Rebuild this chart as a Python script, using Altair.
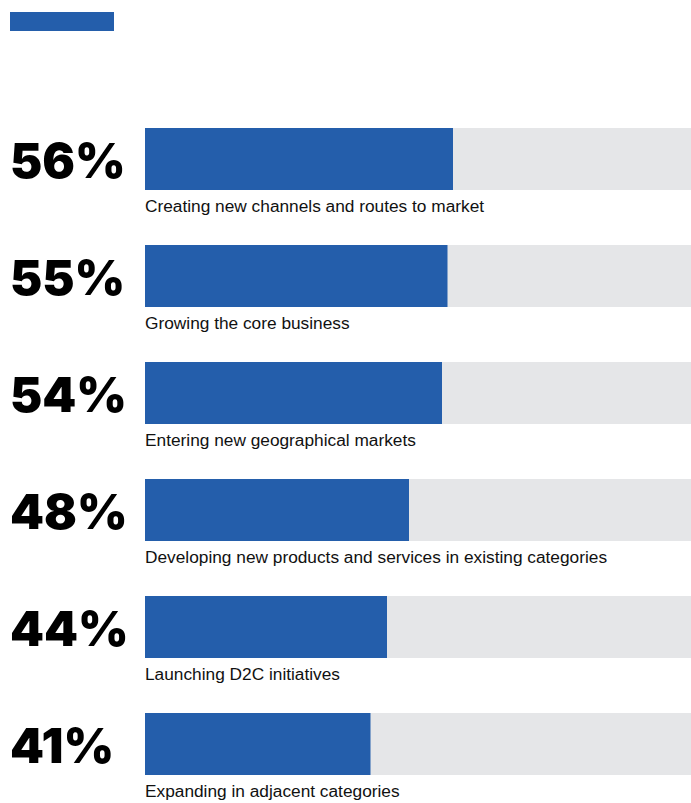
import altair as alt
import pandas as pd

categories = [
    "Creating new channels and routes to market",
    "Growing the core business",
    "Entering new geographical markets",
    "Developing new products and services in existing categories",
    "Launching D2C initiatives",
    "Expanding in adjacent categories",
]
values = [56, 55, 54, 48, 44, 41]
track = [100] * len(values)

df = pd.DataFrame({
    "category": categories,
    "value": values,
    "track": track,
    "label": [f"{v}%" for v in values],
})

BLUE = "#245EAB"
GREY = "#E5E6E8"

y_scale = alt.Scale(domain=categories, range=[128, 775], paddingInner=55 / 117, paddingOuter=0)
x_scale = alt.Scale(domain=[0, 100], range=[145, 695], nice=False, zero=True)

base = alt.Chart(df)
y_enc = alt.Y("category:N", scale=y_scale, axis=None, sort=categories)

track_bars = base.mark_bar(color=GREY, cornerRadius=0).encode(
    x=alt.X("track:Q", scale=x_scale, axis=None),
    x2=alt.value(145),
    y=y_enc,
)

value_bars = base.mark_bar(color=BLUE, cornerRadius=0).encode(
    x=alt.X("value:Q", scale=x_scale, axis=None),
    x2=alt.value(145),
    y=y_enc,
)

pct_text = base.mark_text(
    align="left", baseline="alphabetic", dy=19,
    font="Inter", fontWeight=900, fontSize=48.5, color="#000000",
).encode(
    x=alt.value(10),
    y=y_enc,
    text="label:N",
)

cat_text = base.mark_text(
    align="left", baseline="alphabetic", dy=53,
    font="Liberation Sans", fontSize=17.3, color="#111111",
).encode(
    x=alt.value(145),
    y=y_enc,
    text="category:N",
)

swatch = alt.Chart(pd.DataFrame({"k": [0]})).mark_rect(color=BLUE).encode(
    x=alt.value(10), x2=alt.value(114), y=alt.value(12), y2=alt.value(31)
)

chart = alt.layer(swatch, track_bars, value_bars, pct_text, cat_text).properties(
    width=691, height=803,
    autosize=alt.AutoSizeParams(type="none"),
    padding=0,
    background="white",
).configure_view(stroke=None)

chart.save("out.html", embed_options={"renderer": "svg", "actions": False})
